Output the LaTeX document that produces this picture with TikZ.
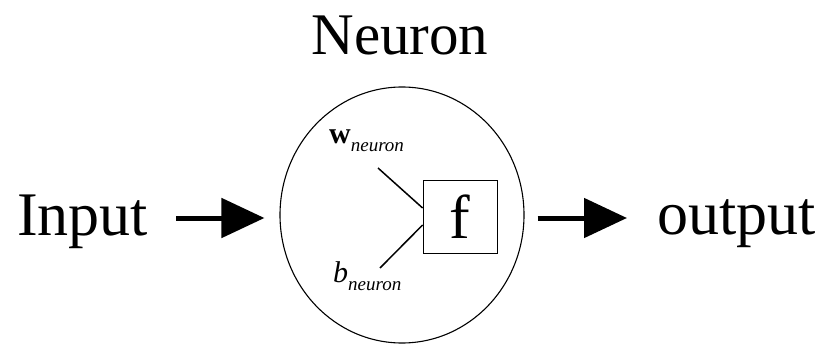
\documentclass[tikz,border=0pt]{standalone}
\usepackage{fontspec}
\setmainfont{Liberation Serif}
\usetikzlibrary{arrows.meta,shapes.geometric}
\tikzset{
  big/.style={font=\fontsize{62}{62}\selectfont},
  arr/.style={line width=5pt,-{Triangle[length=43pt,width=39pt]}},
}
\newcommand{\labsub}[2]{{\fontsize{30}{30}\selectfont #1}\raisebox{-8pt}{\fontsize{19}{19}\selectfont\itshape #2}}
\begin{document}
\begin{tikzpicture}[x=1pt,y=-1pt,every node/.style={inner sep=0pt}]
\useasboundingbox (0,0) rectangle (821,345);
\node[big,font=\fontsize{59}{59}\selectfont,anchor=base] (title) at (400,55) {Neuron};
\node[big,anchor=base west] (inp) at (17,235) {Input};
\node[big,anchor=base west] (out) at (657,234) {output};
% the neuron itself
\node[ellipse,draw,line width=1.1pt,minimum width=244pt,minimum height=256pt] (cell) at (402,215) {};
\node[draw,line width=0.8pt,minimum width=74pt,minimum height=73pt,big] (fbox) at (460,216.5) {f};
\node[anchor=base west] (wlab) at (329,143) {\labsub{\textbf{w}}{neuron}};
\node[anchor=base west] (blab) at (333,282) {\labsub{\textit{b}}{neuron}};
\coordinate (wend) at (378,168);
\coordinate (bend) at (380,268);
\draw[line width=1.5pt] (wend) -- ([yshift=8.5pt]fbox.west);
\draw[line width=1.5pt] (bend) -- ([yshift=-8.5pt]fbox.west);
% in and out
\coordinate (inl) at (inp.east |- cell.west);
\coordinate (outl) at (out.west |- cell.east);
\draw[arr] ([xshift=28pt,yshift=-3pt]inl) -- ([xshift=-15pt,yshift=-3pt]cell.west);
\draw[arr] ([xshift=13pt,yshift=-3pt]cell.east) -- ([xshift=-30pt,yshift=-3pt]outl);
\end{tikzpicture}
\end{document}
